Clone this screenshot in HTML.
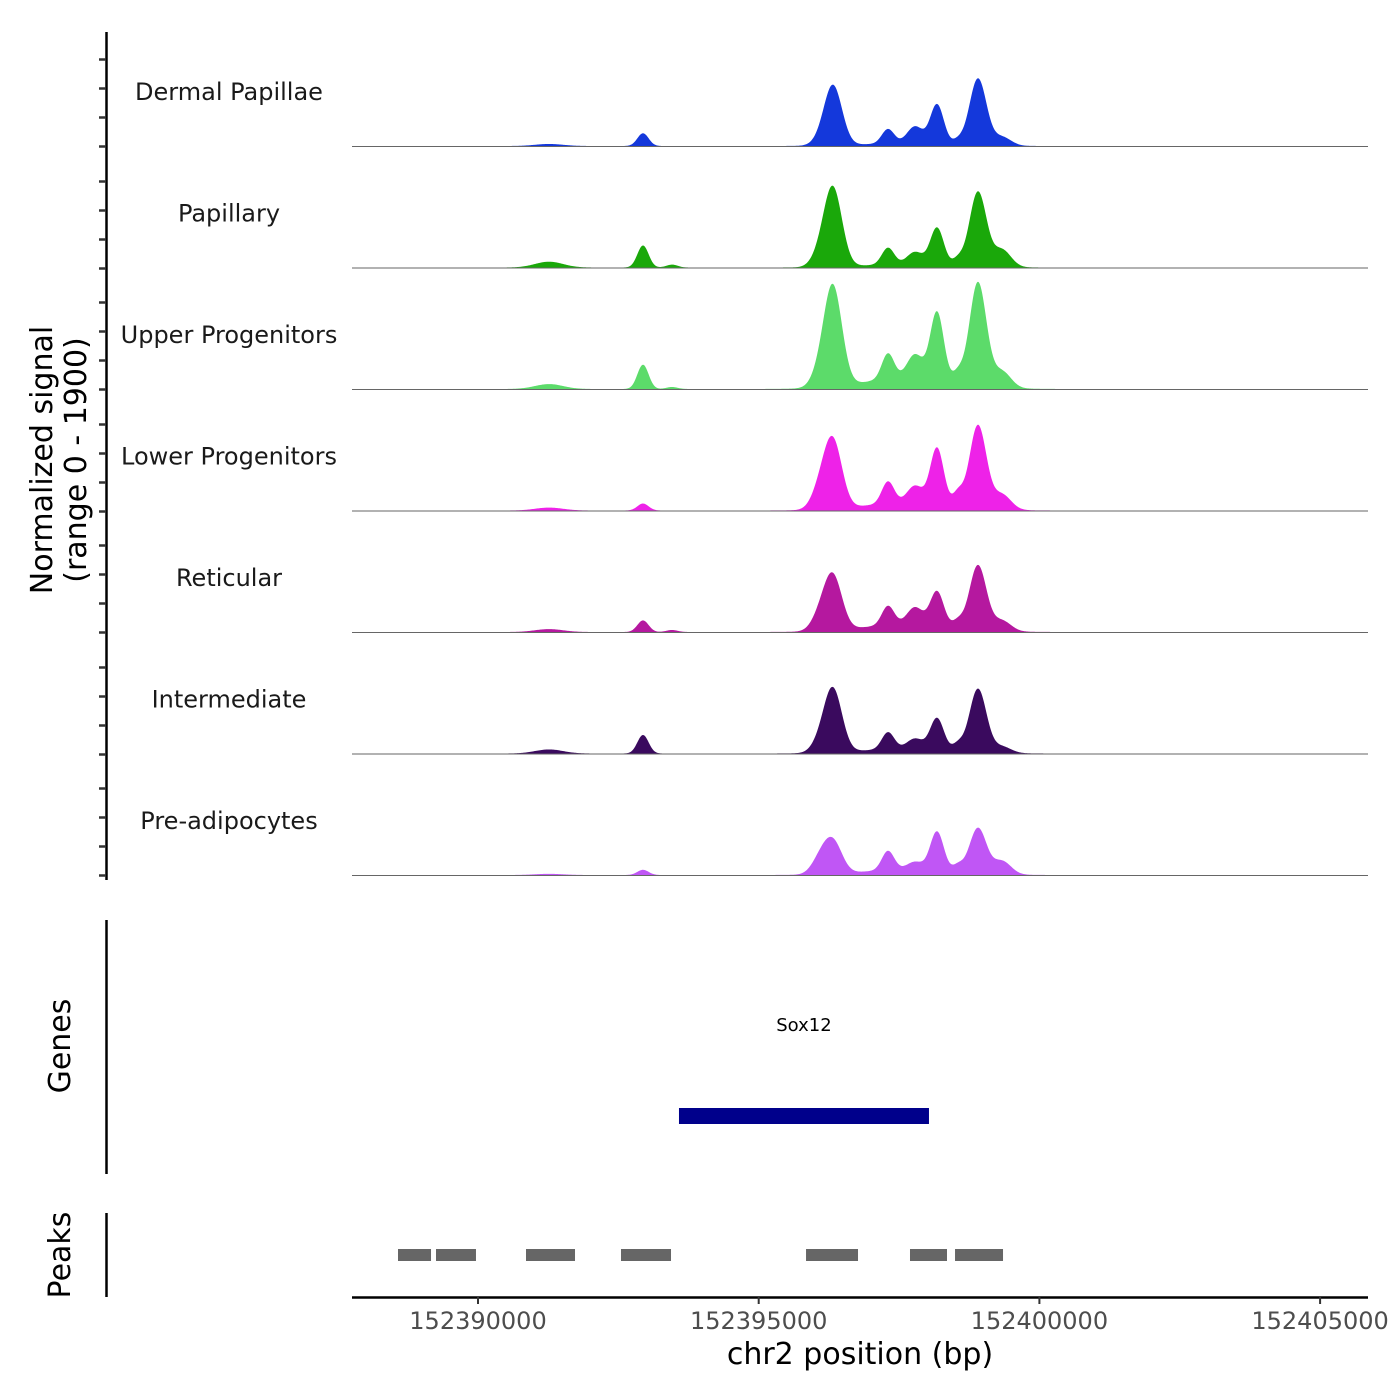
<!DOCTYPE html>
<html><head><meta charset="utf-8">
<style>
html,body{margin:0;padding:0;background:#fff;}
svg{display:block;font-family:"DejaVu Sans","Liberation Sans",sans-serif;}
</style></head>
<body>
<svg id="chart" width="1400" height="1400" viewBox="0 0 1400 1400" xmlns="http://www.w3.org/2000/svg">
  <g id="tracks"></g>
  <line x1="106.5" y1="32" x2="106.5" y2="880" stroke="#000" stroke-width="2.5"/>
  <g id="yticks"></g>
  <text transform="translate(52,460) rotate(-90)" text-anchor="middle" font-size="30" fill="#000">Normalized signal</text>
  <text transform="translate(86,460) rotate(-90)" text-anchor="middle" font-size="30" fill="#000">(range 0 - 1900)</text>

  <line x1="106.5" y1="920" x2="106.5" y2="1174" stroke="#000" stroke-width="2.5"/>
  <text transform="translate(70,1046) rotate(-90)" text-anchor="middle" font-size="30" fill="#000">Genes</text>
  <g id="genes"></g>

  <line x1="106.5" y1="1213" x2="106.5" y2="1297" stroke="#000" stroke-width="2.5"/>
  <text transform="translate(70,1255) rotate(-90)" text-anchor="middle" font-size="30" fill="#000">Peaks</text>
  <g id="peaks"></g>

  <line x1="352" y1="1297.5" x2="1368" y2="1297.5" stroke="#000" stroke-width="2.5"/>
  <g id="xticks"></g>
  <text x="860" y="1364" text-anchor="middle" font-size="30" fill="#000">chr2 position (bp)</text>
</svg>
<script>
const trackNames = ["Dermal Papillae","Papillary","Upper Progenitors","Lower Progenitors","Reticular","Intermediate","Pre-adipocytes"];
const trackColors = ["#1438DB","#1AA80A","#5CDB6A","#EE22E8","#B5189F","#3A0A5E","#C056F5"];
const peakCenters = [152391265,152392939,152393456,152396092,152396324,152397303,152397784,152398176,152398550,152398906,152399334,152397700];
const peakWidths  = [250,100,100,150,160,110,140,120,90,150,160,800];
// signal values (0-1900) per track at each peak center
const sigDermal = [35,220,0,60,1030,250,290,680,70,1150,150,50];
const sigPapillary = [100,380,50,190,1340,290,210,640,110,1290,300,60];
const sigUpper = [85,420,35,230,1700,440,400,1170,160,1780,280,200];
const sigLower = [50,120,0,320,1150,380,290,970,220,1430,260,140];
const sigReticular = [50,200,35,240,920,330,290,590,110,1110,180,140];
const sigIntermediate = [70,320,0,160,1080,290,170,540,110,1090,110,90];
const sigPreadipo = [20,90,0,250,545,330,130,670,110,780,230,100];
const trackSignals = [sigDermal,sigPapillary,sigUpper,sigLower,sigReticular,sigIntermediate,sigPreadipo];
const xTickValues = [152390000,152395000,152400000,152405000];
const yTickValues = [0,500,1000,1500];
const geneNames = ["Sox12"];
const geneStarts = [152393580];
const geneEnds = [152398033];
const peakStarts = [152388575,152389252,152390855,152392547,152395843,152397695,152398497];
const peakEnds   = [152389163,152389964,152391728,152393438,152396769,152398354,152399352];

const NS="http://www.w3.org/2000/svg";
const X0=352, X1=1368, BP0=152387716, BP1=152405814;
function xScale(bp){return 478+(bp-152390000)*(280.7/5000);}
const trackTop0=146, trackStep=121.5, sigMax=1900, trackH=110;
function yScale(v,i){return trackTop0+i*trackStep - v/sigMax*trackH;}
function mk(tag,attrs,parent){const e=document.createElementNS(NS,tag);for(const k in attrs)e.setAttribute(k,attrs[k]);parent.appendChild(e);return e;}

const tg=document.getElementById('tracks');
trackNames.forEach((name,i)=>{
  const sig=trackSignals[i];
  let d="M"+X0+","+yScale(0,i);
  for(let bp=BP0;bp<=BP1;bp+=15){
    let v=0;
    for(let k=0;k<peakCenters.length;k++){const z=(bp-peakCenters[k])/peakWidths[k];v+=sig[k]*Math.exp(-0.5*z*z);}
    v=Math.min(v,sigMax);
    d+=" L"+xScale(bp).toFixed(2)+","+yScale(v,i).toFixed(2);
  }
  d+=" L"+X1+","+yScale(0,i)+" Z";
  const p=mk('path',{d:d,fill:trackColors[i],stroke:'none'},tg);
  
  
  const bl=mk('line',{x1:X0,x2:X1,y1:yScale(0,i)+0.5,y2:yScale(0,i)+0.5,stroke:'#666','stroke-width':1},tg);
  
  
  const t=mk('text',{x:229,y:yScale(0,i)-46,'text-anchor':'middle','font-size':24,fill:'#1a1a1a'},tg);
  t.textContent=name;
  
  
});

const yt=document.getElementById('yticks');
trackNames.forEach((n,i)=>{
  yTickValues.forEach(v=>{
    const y=Math.round(yScale(v,i))+0.5;
    const l=mk('line',{x1:99,x2:106,y1:y,y2:y,stroke:'#333','stroke-width':2.5},yt);
    
    
  });
});

const gg=document.getElementById('genes');
geneNames.forEach((g,i)=>{
  const r=mk('rect',{x:xScale(geneStarts[i]),y:1108,width:xScale(geneEnds[i])-xScale(geneStarts[i]),height:16,fill:'#00008B'},gg);
  
  
  const t=mk('text',{x:(xScale(geneStarts[i])+xScale(geneEnds[i]))/2,y:1031,'text-anchor':'middle','font-size':18,fill:'#000'},gg);
  t.textContent=g;
  
  
});

const pg=document.getElementById('peaks');
peakStarts.forEach((s,i)=>{
  const r=mk('rect',{x:xScale(s),y:1249,width:xScale(peakEnds[i])-xScale(s),height:12,fill:'#666'},pg);
  
  
});

const xt=document.getElementById('xticks');
xTickValues.forEach(v=>{
  const x=xScale(v);
  const l=mk('line',{x1:x,x2:x,y1:1297,y2:1304,stroke:'#333','stroke-width':2},xt);
  
  
  const t=mk('text',{x:x,y:1329,'text-anchor':'middle','font-size':24,fill:'#4d4d4d'},xt);
  t.textContent=v;
  
  
});
</script>
</body></html>
